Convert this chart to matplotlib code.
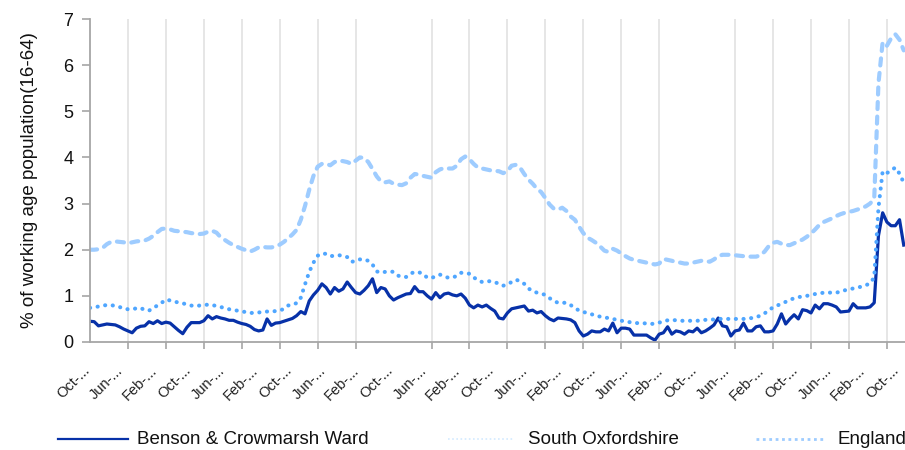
import matplotlib
matplotlib.use("Agg")
import matplotlib.pyplot as plt
from matplotlib.lines import Line2D
from matplotlib.ticker import FixedLocator

plt.rcParams['font.family'] = ['Liberation Sans', 'DejaVu Sans']

series_names = ["Benson & Crowmarsh Ward", "South Oxfordshire", "England"]

benson = [
    0.45, 0.44, 0.35, 0.37, 0.39, 0.38, 0.37, 0.33, 0.28, 0.24, 0.20, 0.30,
    0.34, 0.35, 0.44, 0.40, 0.46, 0.40, 0.43, 0.41, 0.33, 0.25, 0.18, 0.32,
    0.42, 0.42, 0.42, 0.46, 0.57, 0.50, 0.55, 0.52, 0.50, 0.47, 0.47, 0.43,
    0.40, 0.38, 0.34, 0.27, 0.24, 0.26, 0.50, 0.36, 0.41, 0.42, 0.45, 0.48,
    0.51, 0.57, 0.66, 0.61, 0.89, 1.02, 1.12, 1.26, 1.18, 1.04, 1.18, 1.10,
    1.15, 1.30, 1.18, 1.07, 1.04, 1.12, 1.22, 1.37, 1.07, 1.18, 1.15, 1.00,
    0.91, 0.96, 1.00, 1.04, 1.05, 1.20, 1.09, 1.09, 1.00, 0.93, 1.07, 0.96,
    1.04, 1.06, 1.02, 1.00, 1.04, 0.95, 0.80, 0.74, 0.80, 0.76, 0.80, 0.73,
    0.67, 0.52, 0.50, 0.63, 0.72, 0.74, 0.76, 0.78, 0.67, 0.69, 0.63, 0.66,
    0.57, 0.50, 0.46, 0.52, 0.51, 0.50, 0.48, 0.42, 0.24, 0.13, 0.17, 0.24,
    0.22, 0.22, 0.28, 0.24, 0.41, 0.20, 0.30, 0.30, 0.28, 0.15, 0.15, 0.15,
    0.15, 0.09, 0.04, 0.17, 0.20, 0.33, 0.17, 0.24, 0.22, 0.17, 0.24, 0.22,
    0.30, 0.20, 0.24, 0.30, 0.37, 0.52, 0.35, 0.33, 0.13, 0.24, 0.26, 0.41,
    0.24, 0.24, 0.33, 0.35, 0.22, 0.22, 0.24, 0.39, 0.61, 0.39, 0.50, 0.59,
    0.50, 0.70, 0.68, 0.63, 0.80, 0.72, 0.83, 0.83, 0.80, 0.76, 0.65, 0.66,
    0.67, 0.83, 0.74, 0.74, 0.74, 0.76, 0.85, 2.30, 2.80, 2.60, 2.52, 2.52,
    2.65, 2.10,
]

south_oxfordshire = [
    0.74, 0.75, 0.77, 0.79, 0.80, 0.80, 0.78, 0.76, 0.72, 0.71, 0.71, 0.73,
    0.74, 0.69, 0.68, 0.74, 0.79, 0.85, 0.92, 0.90, 0.87, 0.86, 0.84, 0.81,
    0.79, 0.78, 0.79, 0.80, 0.81, 0.80, 0.78, 0.76, 0.73, 0.71, 0.69, 0.68,
    0.66, 0.65, 0.63, 0.63, 0.64, 0.65, 0.66, 0.66, 0.67, 0.68, 0.72, 0.79,
    0.82, 0.84, 0.96, 1.25, 1.52, 1.72, 1.87, 1.92, 1.91, 1.86, 1.87, 1.88,
    1.87, 1.84, 1.74, 1.75, 1.79, 1.79, 1.76, 1.68, 1.53, 1.50, 1.52, 1.53,
    1.52, 1.44, 1.41, 1.41, 1.48, 1.52, 1.51, 1.48, 1.39, 1.39, 1.42, 1.46,
    1.43, 1.39, 1.40, 1.43, 1.50, 1.49, 1.48, 1.40, 1.34, 1.30, 1.31, 1.32,
    1.29, 1.27, 1.22, 1.25, 1.30, 1.35, 1.32, 1.26, 1.16, 1.10, 1.07, 1.05,
    1.02, 0.95, 0.89, 0.85, 0.85, 0.85, 0.80, 0.74, 0.68, 0.65, 0.63, 0.60,
    0.57, 0.55, 0.53, 0.52, 0.50, 0.48, 0.46, 0.45, 0.43, 0.41, 0.41, 0.41,
    0.40, 0.39, 0.40, 0.42, 0.45, 0.47, 0.48, 0.47, 0.46, 0.46, 0.46, 0.46,
    0.46, 0.47, 0.48, 0.48, 0.49, 0.50, 0.50, 0.50, 0.50, 0.50, 0.50, 0.50,
    0.51, 0.52, 0.54, 0.57, 0.62, 0.69, 0.75, 0.79, 0.83, 0.87, 0.91, 0.95,
    0.97, 0.99, 1.00, 1.02, 1.04, 1.05, 1.07, 1.07, 1.07, 1.07, 1.09, 1.12,
    1.14, 1.16, 1.18, 1.20, 1.23, 1.27, 1.40, 2.90, 3.70, 3.66, 3.72, 3.78,
    3.65, 3.45,
]

england = [
    2.00, 2.00, 2.01, 2.04, 2.12, 2.17, 2.18, 2.17, 2.16, 2.14, 2.16, 2.18,
    2.19, 2.20, 2.24, 2.30, 2.38, 2.45, 2.46, 2.44, 2.41, 2.40, 2.39, 2.38,
    2.36, 2.35, 2.34, 2.35, 2.39, 2.41, 2.37, 2.27, 2.21, 2.15, 2.10, 2.06,
    2.02, 1.99, 1.96, 2.00, 2.05, 2.06, 2.05, 2.05, 2.07, 2.11, 2.17, 2.25,
    2.33, 2.43, 2.65, 2.95, 3.30, 3.60, 3.80, 3.86, 3.86, 3.83, 3.90, 3.93,
    3.92, 3.90, 3.86, 3.93, 4.00, 3.99, 3.90, 3.75, 3.59, 3.48, 3.46, 3.48,
    3.43, 3.41, 3.40, 3.44, 3.56, 3.64, 3.63, 3.60, 3.58, 3.56, 3.68, 3.74,
    3.77, 3.76, 3.76, 3.82, 3.96, 4.02, 3.96, 3.86, 3.78, 3.76, 3.74, 3.72,
    3.71, 3.70, 3.66, 3.70, 3.82, 3.84, 3.78, 3.64, 3.52, 3.43, 3.32, 3.25,
    3.12, 2.98, 2.89, 2.87, 2.91, 2.84, 2.72, 2.65, 2.50, 2.36, 2.26, 2.21,
    2.15, 2.07, 1.98, 1.95, 2.02, 1.98, 1.92, 1.86, 1.81, 1.78, 1.76, 1.74,
    1.72, 1.70, 1.68, 1.70, 1.80, 1.78, 1.76, 1.73, 1.72, 1.70, 1.70, 1.72,
    1.74, 1.76, 1.75, 1.74, 1.79, 1.86, 1.89, 1.89, 1.89, 1.88, 1.87, 1.86,
    1.85, 1.85, 1.85, 1.88, 1.96, 2.08, 2.15, 2.17, 2.13, 2.10, 2.10, 2.14,
    2.18, 2.22, 2.28, 2.35, 2.44, 2.54, 2.60, 2.64, 2.68, 2.73, 2.77, 2.80,
    2.82, 2.84, 2.87, 2.90, 2.94, 3.00, 3.10, 5.60, 6.50, 6.42, 6.58, 6.67,
    6.55, 6.32,
]

tick_labels = [
    "Oct-...", "Jun-...", "Feb-...", "Oct-...", "Jun-...", "Feb-...",
    "Oct-...", "Jun-...", "Feb-...", "Oct-...", "Jun-...", "Feb-...",
    "Oct-...", "Jun-...", "Feb-...", "Oct-...", "Jun-...", "Feb-...",
    "Oct-...", "Jun-...", "Feb-...", "Oct-...", "Jun-...", "Feb-...",
    "Oct-...",
]
y_ticks = [0, 1, 2, 3, 4, 5, 6, 7]

W, H = 905, 450
fig = plt.figure(figsize=(W / 100, H / 100), dpi=100)
ax = fig.add_axes([90 / W, (H - 342) / H, 815 / W, 323 / H])

x = list(range(len(england)))

c_benson = '#0731A8'
c_south = '#4FA6FF'
c_eng = '#9ECCFF'

ax.plot(x, benson, color=c_benson, lw=2.3, solid_joinstyle='round', zorder=3)
ax.plot(x, south_oxfordshire, color=c_south, lw=2.9, linestyle=(0, (0.05, 1.85)),
        dash_capstyle='round', zorder=3)
ax.plot(x, england, color=c_eng, lw=3.0, linestyle=(0, (1.7, 1.8)),
        dash_capstyle='round', zorder=3)

ax.set_xlim(0, 193.3)
ax.set_ylim(0, 7)
ax.set_yticks(y_ticks)
ax.set_yticklabels([str(v) for v in y_ticks])

ax.set_xticks(list(range(0, 8 * len(tick_labels), 8)))
ax.set_xticklabels(tick_labels, rotation=45, ha='right', va='baseline',
                   rotation_mode='anchor', fontsize=10.5, color='#222222')
ax.xaxis.set_minor_locator(FixedLocator(list(range(0, 194, 9))))
ax.tick_params(axis='x', which='major', length=0, pad=21)
ax.tick_params(axis='x', which='minor', length=5, width=1.2, color='#A6A6A6')
ax.grid(axis='x', which='minor', color='#E6E6E6', lw=1.4, zorder=0)
ax.tick_params(axis='y', length=6, width=1.2, color='#A6A6A6', labelsize=13,
               pad=6, labelcolor='#111111')

for s in ['top', 'right']:
    ax.spines[s].set_visible(False)
for s in ['left', 'bottom']:
    ax.spines[s].set_color('#A6A6A6')
    ax.spines[s].set_linewidth(1.3)
    ax.spines[s].set_zorder(4)

ax.set_ylabel("% of working age population(16-64)", fontsize=13.5,
              color='#111111', labelpad=18)

# legend drawn below the plot
ly = (H - 439) / H
leg = [
    (58, 128, 137, dict(color=c_benson, lw=1.6, linestyle='-')),
    (448, 514, 528, dict(color='#D3EAFF', lw=1.2, linestyle=(0, (1, 1.5)))),
    (756, 826, 837, dict(color=c_eng, lw=2.0, linestyle=(0, (1, 1.3)))),
]
for (x0, x1, tx, kw), name in zip(leg, series_names):
    fig.add_artist(Line2D([x0 / W, x1 / W], [ly, ly], transform=fig.transFigure, **kw))
    fig.text(tx / W, ly, name, fontsize=13.5, va='center', ha='left', color='#111111')

fig.savefig("out.png", dpi=100)
